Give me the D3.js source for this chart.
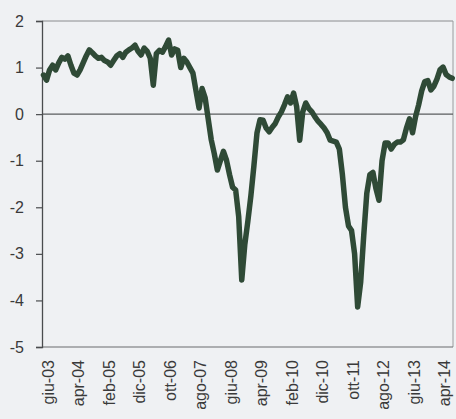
<!DOCTYPE html>
<html>
<head>
<meta charset="utf-8">
<script src="https://cdn.jsdelivr.net/npm/d3@7"></script>
<style>
  html, body { margin: 0; padding: 0; background: #eff1f3; }
  svg { display: block; }
  text { font-family: "Liberation Sans", Arial, sans-serif; fill: #3a3a3a; }
</style>
</head>
<body>
<svg id="chart" width="456" height="419"></svg>
<script>
// ---- data ----
const startMonth = "2003-06";
const values = [
  0.84, 0.73, 0.95, 1.05, 0.95, 1.10, 1.22, 1.18, 1.25, 1.05,
  0.88, 0.84, 0.95, 1.10, 1.25, 1.38, 1.32, 1.25, 1.20, 1.22,
  1.15, 1.12, 1.05, 1.15, 1.25, 1.30, 1.22, 1.33, 1.38, 1.42,
  1.48, 1.35, 1.27, 1.42, 1.35, 1.20, 0.62, 1.30, 1.37, 1.33,
  1.45, 1.59, 1.27, 1.40, 1.37, 1.00, 1.20, 1.12, 1.00, 0.88,
  0.50, 0.13, 0.55, 0.35, -0.10, -0.55, -0.85, -1.20, -1.00, -0.80,
  -0.99, -1.30, -1.57, -1.63, -2.20, -3.56, -2.80, -2.30, -1.75, -1.10,
  -0.40, -0.12, -0.13, -0.30, -0.38, -0.28, -0.20, -0.06, 0.05, 0.20,
  0.37, 0.24, 0.45, 0.16, -0.56, 0.05, 0.24, 0.12, 0.05, -0.06,
  -0.15, -0.22, -0.30, -0.40, -0.56, -0.58, -0.60, -0.75, -1.30, -2.00,
  -2.40, -2.50, -3.00, -4.14, -3.60, -2.60, -1.70, -1.30, -1.25, -1.60,
  -1.85, -1.00, -0.62, -0.62, -0.75, -0.65, -0.60, -0.60, -0.55, -0.30,
  -0.10, -0.40, -0.05, 0.20, 0.50, 0.70, 0.72, 0.52, 0.60, 0.75,
  0.95, 1.01, 0.85, 0.80, 0.77
];
const monthNames = ["gen","feb","mar","apr","mag","giu","lug","ago","set","ott","nov","dic"];
const xTickLabels = ["giu-03","apr-04","feb-05","dic-05","ott-06","ago-07","giu-08","apr-09","feb-10","dic-10","ott-11","ago-12","giu-13","apr-14"];
const yTicks = [2, 1, 0, -1, -2, -3, -4, -5];

// categories: month labels, one per value
const start = d3.timeParse("%Y-%m")(startMonth);
const categories = values.map((v, i) => {
  const d = d3.timeMonth.offset(start, i);
  return monthNames[d.getMonth()] + "-" + String(d.getFullYear()).slice(2);
});
const data = values.map((v, i) => ({ cat: categories[i], v }));

// ---- layout ----
const svg = d3.select("#chart");
const plot = { left: 42, right: 453, top: 21, bottom: 347 };

const x = d3.scalePoint().domain(categories).range([43.5, 452.2]);
const y = d3.scaleLinear().domain([-5, 2]).range([plot.bottom, plot.top]);

// frame (top + right)
svg.append("line").attr("x1", plot.left).attr("x2", plot.right)
  .attr("y1", plot.top).attr("y2", plot.top)
  .attr("stroke", "#8a8c8e").attr("stroke-width", 1);
svg.append("line").attr("x1", plot.right).attr("x2", plot.right)
  .attr("y1", plot.top).attr("y2", plot.bottom)
  .attr("stroke", "#9a9c9e").attr("stroke-width", 1);

// zero line
svg.append("line").attr("x1", plot.left).attr("x2", plot.right)
  .attr("y1", y(0)).attr("y2", y(0))
  .attr("stroke", "#5a5c5e").attr("stroke-width", 1.2);

// bottom axis line
svg.append("line").attr("x1", plot.left).attr("x2", plot.right)
  .attr("y1", plot.bottom).attr("y2", plot.bottom)
  .attr("stroke", "#6a6c6e").attr("stroke-width", 1.2);

// y axis
const yAxis = d3.axisLeft(y).tickValues(yTicks).tickSize(6).tickPadding(12)
  .tickFormat(d => String(d));
const gy = svg.append("g").attr("transform", `translate(${plot.left},0)`).call(yAxis);
gy.select(".domain").attr("stroke", "#4a4c4e").attr("stroke-width", 1.3);
gy.selectAll(".tick line").attr("stroke", "#4a4c4e").attr("stroke-width", 1.2);
gy.selectAll(".tick text").attr("font-size", 16)
  .attr("font-family", "'Liberation Sans', Arial, sans-serif").attr("fill", "#3a3a3a");

// x labels (rotated)
const gx = svg.append("g");
gx.selectAll("text").data(xTickLabels).join("text")
  .attr("transform", d => `translate(${x(d) + 4.5},360) rotate(-90)`)
  .attr("text-anchor", "end")
  .attr("dy", "0.35em")
  .attr("font-size", 16)
  .text(d => d);

// line
const line = d3.line().x(d => x(d.cat)).y(d => y(d.v)).curve(d3.curveLinear);
svg.append("path").datum(data)
  .attr("d", line)
  .attr("fill", "none")
  .attr("stroke", "#2f4a36")
  .attr("stroke-width", 5.5)
  .attr("stroke-linejoin", "round")
  .attr("stroke-linecap", "round");
</script>
</body>
</html>
